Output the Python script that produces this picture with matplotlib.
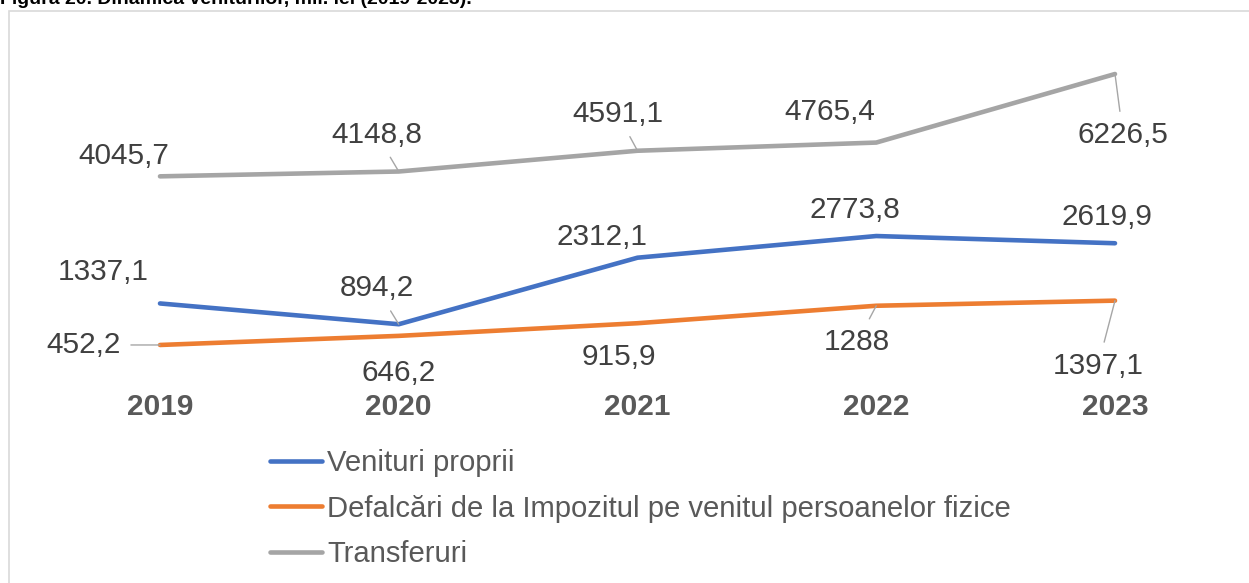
import matplotlib.pyplot as plt
from matplotlib.patches import Rectangle

years = ['2019', '2020', '2021', '2022', '2023']
venituri_proprii = [1337.1, 894.2, 2312.1, 2773.8, 2619.9]
defalcari = [452.2, 646.2, 915.9, 1288, 1397.1]
transferuri = [4045.7, 4148.8, 4591.1, 4765.4, 6226.5]
series_names = ['Venituri proprii',
                'Defalcări de la Impozitul pe venitul persoanelor fizice',
                'Transferuri']

# label offsets in pixels (dx, dy up) and whether Excel drew a leader line
lab_venituri = [(-57, 31, False), (-22, 36, True), (-35, 21, False), (-21, 26, False), (-8, 26, False)]
lab_defalcari = [(-76, 0, True), (0, -37, False), (-19, -34, False), (-19, -36, True), (-17, -65, True)]
lab_transferuri = [(-36, 20, False), (-22, 37, True), (-20, 37, True), (-46, 31, False), (8, -61, True)]

plt.rcParams['font.family'] = ['Liberation Sans', 'DejaVu Sans']

W, H = 1249, 583
fig = plt.figure(figsize=(W / 100, H / 100), dpi=100)

# axes placed so 2019..2023 sit at x=160..1115 px and y=0 at 366 px
x0, x1 = 160, 1115
step = (x1 - x0) / 4
left = x0 - step / 2
right = x1 + step / 2
ybot, ytop = 366.2, 37.7
ax = fig.add_axes([left / W, 1 - ybot / H, (right - left) / W, (ybot - ytop) / H])

colors = ['#4472C4', '#ED7D31', '#A5A5A5']
data = [venituri_proprii, defalcari, transferuri]
labs = [lab_venituri, lab_defalcari, lab_transferuri]
xs = range(len(years))

for vals, col, name, lab in zip(data, colors, series_names, labs):
    ax.plot(xs, vals, color=col, lw=3.3, solid_capstyle='round', solid_joinstyle='round', label=name)
    for i, v in enumerate(vals):
        dx, dy, lead = lab[i]
        txt = ('%g' % v).replace('.', ',')
        ap = dict(arrowstyle='-', color='#A6A6A6', lw=1, shrinkA=5, shrinkB=0) if lead else None
        ax.annotate(txt, xy=(i, v), xytext=(dx * 0.72, dy * 0.72), textcoords='offset points',
                    ha='center', va='center', fontsize=21.4, color='#404040', arrowprops=ap)

ax.set_xlim(-0.5, 4.5)
ax.set_ylim(0, 7000)
ax.set_xticks(list(xs))
ax.set_xticklabels(years, fontsize=21.5, fontweight='bold', color='#595959')
ax.tick_params(axis='x', length=0, pad=19)
ax.set_yticks([])
for s in ax.spines.values():
    s.set_visible(False)
ax.patch.set_alpha(0)

fig.legend(loc='upper left', bbox_to_anchor=(270 / W, 1 - 449 / H), frameon=False,
           fontsize=21.1, labelcolor='#595959', handlelength=1.78, handletextpad=0.17,
           labelspacing=0.6, borderpad=0, borderaxespad=0)

# chart frame (top and left edges visible in the crop)
fig.patches.append(Rectangle((8.5 / W, -0.2), 1.5, 1.2 - 10.5 / H, transform=fig.transFigure,
                             fill=False, edgecolor='#D9D9D9', lw=1.2))

fig.text(0, 1 - 4.5 / H, 'Figura 20. Dinamica veniturilor, mil. lei (2019-2023).',
         fontsize=14, fontweight='bold', color='black', va='baseline', ha='left')

fig.savefig('out.png', dpi=100)
